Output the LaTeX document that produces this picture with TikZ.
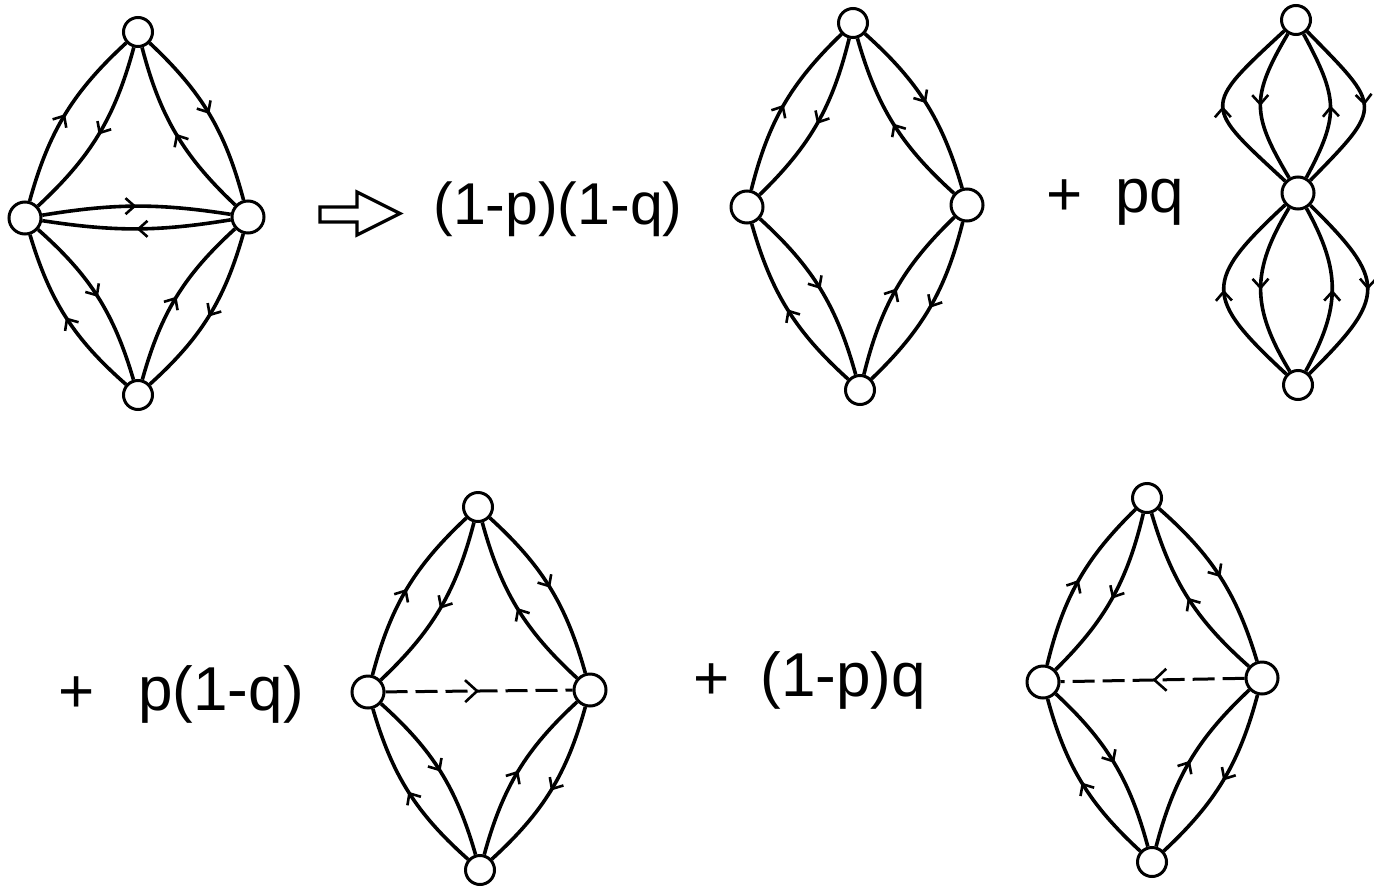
\documentclass[tikz,border=0pt]{standalone}
\usepackage{fontspec}
\setmainfont{Liberation Sans}
\usetikzlibrary{arrows.meta,decorations.markings}
\newcommand\lensquad[4]{% #1 top, #2 left, #3 right, #4 bottom
  \draw[arrowed] (#2) to[bend left=16] (#1);
  \draw[arrowed] (#1) to[bend left=16] (#2);
  \draw[arrowed] (#1) to[bend left=16] (#3);
  \draw[arrowed] (#3) to[bend left=16] (#1);
  \draw[arrowed] (#3) to[bend left=16] (#4);
  \draw[arrowed] (#4) to[bend left=16] (#3);
  \draw[arrowed] (#4) to[bend left=16] (#2);
  \draw[arrowed] (#2) to[bend left=16] (#4);
}
\begin{document}
\begin{tikzpicture}[x=0.5pt,y=0.5pt,
  bigv/.style={circle,draw,line width=1.5pt,inner sep=0pt,minimum size=16pt},
  smallv/.style={circle,draw,line width=1.5pt,inner sep=0pt,minimum size=14.5pt},
  link/.style={line width=1.8pt},
  arrowed/.style={link,postaction={decorate,decoration={markings,mark=at position 0.5 with {\arrow{Straight Barb[length=4.5pt,width=8pt,line width=1.3pt]}}}}},
  dasharrowed/.style={line width=1.5pt,dash pattern=on 11pt off 4pt,postaction={decorate,decoration={markings,mark=at position 0.5 with {\arrow[solid]{Straight Barb[length=6pt,width=11pt,line width=1.3pt]}}}}},
  lbl/.style={inner sep=0pt,anchor=base west,font=\fontsize{31}{37}\selectfont},
  plussign/.style={inner sep=0pt,font=\fontsize{31}{37}\selectfont},
]
\useasboundingbox (0,0) rectangle (1374,-888);

% ---- diagram 1
\node[smallv] (T1) at (138,-32) {};
\node[bigv] (L1) at (25,-218) {};
\node[bigv] (R1) at (248,-217) {};
\node[smallv] (B1) at (138,-395) {};
\lensquad{T1}{L1}{R1}{B1}
\draw[arrowed] (L1) to[bend left=9] (R1);
\draw[arrowed] (R1) to[bend left=9] (L1);

% ---- hollow implication arrow
\draw[line width=1.6pt,line join=miter] (320,-207) -- (357,-207) -- (357,-192) -- (400,-213.5) -- (357,-235) -- (357,-222) -- (320,-222) -- cycle;

\node[lbl,font=\fontsize{29.5}{36}\selectfont] (t1) at (433,-224) {(1-p)(1-q)};

% ---- diagram 2
\node[smallv] (T2) at (853,-23) {};
\node[bigv] (L2) at (747,-207) {};
\node[bigv] (R2) at (967,-205) {};
\node[smallv] (B2) at (860,-390) {};
\lensquad{T2}{L2}{R2}{B2}

\node[plussign] (p1) at (1065,-198) {+};
\node[lbl] (t2) at (1115,-212) {pq};

% ---- diagram 3 (figure eight)
\node[smallv] (T3) at (1296,-20) {};
\node[bigv] (M3) at (1298,-193) {};
\node[smallv] (B3) at (1298,-385) {};
\draw[arrowed] (M3) .. controls +(-95,88) and +(-95,-88) .. (T3);
\draw[arrowed] (T3) .. controls +(-46,-78) and +(-46,78) .. (M3);
\draw[arrowed] (M3) .. controls +(42,78) and +(42,-78) .. (T3);
\draw[arrowed] (T3) .. controls +(86,-88) and +(86,88) .. (M3);
\draw[arrowed] (B3) .. controls +(-95,88) and +(-95,-88) .. (M3);
\draw[arrowed] (M3) .. controls +(-47,-78) and +(-47,78) .. (B3);
\draw[arrowed] (B3) .. controls +(43,78) and +(43,-78) .. (M3);
\draw[arrowed] (M3) .. controls +(89,-88) and +(89,88) .. (B3);

% ---- second row
\node[plussign] (p2) at (77,-695) {+};
\node[lbl] (t3) at (138,-710) {p(1-q)};

\node[smallv] (T4) at (478,-507) {};
\node[bigv] (L4) at (368,-692) {};
\node[bigv] (R4) at (590,-690) {};
\node[smallv] (B4) at (480,-870) {};
\lensquad{T4}{L4}{R4}{B4}
\draw[dasharrowed] (L4) -- (R4);

\node[plussign] (p3) at (712,-682) {+};
\node[lbl] (t4) at (760,-696) {(1-p)q};

\node[smallv] (T5) at (1147,-498) {};
\node[bigv] (L5) at (1043,-682) {};
\node[bigv] (R5) at (1262,-678) {};
\node[smallv] (B5) at (1152,-862) {};
\lensquad{T5}{L5}{R5}{B5}
\draw[dasharrowed] (R5) -- (L5);
\end{tikzpicture}
\end{document}
